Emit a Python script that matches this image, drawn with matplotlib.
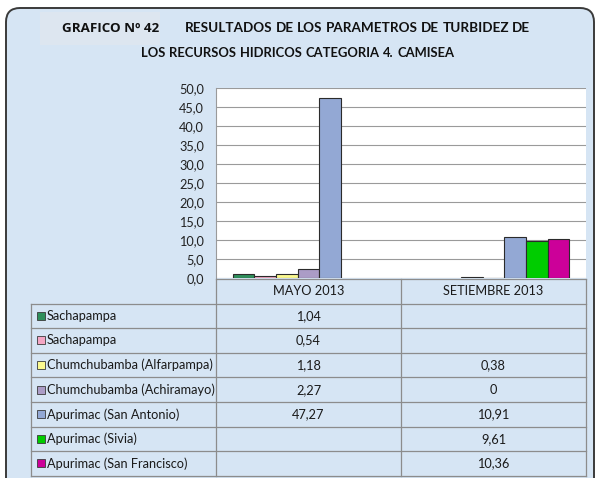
import numpy as np
import matplotlib
matplotlib.use("Agg")
import matplotlib.pyplot as plt
from matplotlib.patches import FancyBboxPatch, Rectangle
from matplotlib.lines import Line2D
from matplotlib.transforms import Affine2D

# turbidity results per sampling point (NTU), None = not sampled
months = ["MAYO 2013", "SETIEMBRE 2013"]
stations = [
    "Sachapampa",
    "Sachapampa",
    "Chumchubamba (Alfarpampa)",
    "Chumchubamba (Achiramayo)",
    "Apurimac (San Antonio)",
    "Apurimac (Sivia)",
    "Apurimac (San Francisco)",
]
mayo = [1.04, 0.54, 1.18, 2.27, 47.27, None, None]
setiembre = [None, None, 0.38, 0, 10.91, 9.61, 10.36]
colors = ["#2f8f5b", "#f4a6c4", "#fbf98f", "#ab9cc6", "#93a8d4", "#00cc00", "#cc0099"]
yticks = np.arange(0, 55, 5)

W, H = 595, 478
fig = plt.figure(figsize=(W / 100, H / 100), dpi=100)
fig.patch.set_facecolor("white")
renderer = fig.canvas.get_renderer()

# pixel coordinates, origin top-left
px = Affine2D().scale(1 / W, -1 / H).translate(0, 1) + fig.transFigure

body_font = ["Lato", "DejaVu Sans"]
title_font = ["Lato", "DejaVu Sans"]

# background panel
frame = FancyBboxPatch((6, 8), 588, 500, boxstyle="round,pad=0,rounding_size=14",
                       transform=px, facecolor="#d6e5f4", edgecolor="#3a3a3a",
                       linewidth=1.4, zorder=-2)
fig.patches.append(frame)
fig.patches.append(Rectangle((40, 12), 120, 33, transform=px, facecolor="#dde6f0",
                             edgecolor="none", zorder=-1))


def title_line(x0, x1, y, s, gap=3.5):
    # lay the words out one by one with tight spacing, sized to span x0..x1
    words = s.split()
    texts = [fig.text(0, y, w, transform=px, ha="left", va="center", fontsize=10,
                      fontweight="bold", family=title_font, color="#111111")
             for w in words]
    widths = [t.get_window_extent(renderer=renderer).width for t in texts]
    k = (x1 - x0 - gap * (len(words) - 1)) / sum(widths)
    xc = x0
    for t, w in zip(texts, widths):
        t.set_fontsize(10 * k)
        t.set_x(xc)
        xc += w * k + gap


fig.text(62, 29, "GRAFICO Nº 42", transform=px, fontsize=9.6, fontweight="bold",
         family=["Open Sans", "DejaVu Sans"], va="center", ha="left", color="#111111")
title_line(185, 530, 28, "RESULTADOS DE LOS PARAMETROS DE TURBIDEZ DE")
title_line(141, 455, 53, "LOS RECURSOS HIDRICOS CATEGORIA 4. CAMISEA")

# bar chart
left, right, top, bottom = 216, 586, 88, 278
ax = fig.add_axes([left / W, 1 - bottom / H, (right - left) / W, (bottom - top) / H])
ax.set_facecolor("white")
n = len(stations)
bw = 0.117
x = np.arange(len(months))
for i in range(n):
    vals = [mayo[i], setiembre[i]]
    heights = [np.nan if v is None else v for v in vals]
    ax.bar(x + (i - (n - 1) / 2) * bw, heights, width=bw, color=colors[i],
           edgecolor="#2b2b2b", linewidth=0.8, zorder=3)
ax.set_xlim(-0.5, 1.5)
ax.set_ylim(0, 50)
ax.set_yticks(yticks)
ax.set_yticklabels([f"{t:.1f}".replace(".", ",") for t in yticks],
                   family=body_font, fontsize=9.2, color="#222222")
ax.tick_params(axis="y", length=0, pad=8.5)
ax.set_xticks([])
ax.grid(axis="y", color="#9a9a9a", linewidth=0.8, zorder=0)
for s in ["top", "right", "bottom"]:
    ax.spines[s].set_visible(False)
ax.spines["left"].set_color("#9a9a9a")
ax.spines["left"].set_linewidth(0.8)

# data table under the chart
tab_left, col1, col2, tab_right = 31, 216, 401, 586
tab_top, row_h = 279, 24.6
n_rows = n + 1
line_kw = dict(transform=px, color="#8c8c8c", linewidth=0.9)
for r in range(n_rows + 1):
    y = tab_top + r * row_h
    x0 = col1 if r == 0 else tab_left
    fig.lines.append(Line2D([x0, tab_right], [y, y], **line_kw))
tab_bottom = tab_top + n_rows * row_h
fig.lines.append(Line2D([tab_left, tab_left], [tab_top + row_h, tab_bottom], **line_kw))
for xc in (col1, col2, tab_right):
    fig.lines.append(Line2D([xc, xc], [tab_top, tab_bottom], **line_kw))

txt_kw = dict(transform=px, fontsize=9.2, family=body_font, color="#1a1a1a", va="center")
for j, m in enumerate(months):
    cx = (col1 + col2) / 2 if j == 0 else (col2 + tab_right) / 2
    fig.text(cx, tab_top + row_h / 2, m, ha="center", **txt_kw)


def fmt(v):
    return ("%g" % v).replace(".", ",")


for i, name in enumerate(stations):
    yc = tab_top + (i + 1.5) * row_h
    fig.patches.append(Rectangle((36.5, yc - 4), 8, 8, transform=px, facecolor=colors[i],
                                 edgecolor="#3a3a3a", linewidth=0.6))
    fig.text(47, yc, name, ha="left", **txt_kw)
    for j, vals in enumerate([mayo, setiembre]):
        if vals[i] is None:
            continue
        cx = (col1 + col2) / 2 if j == 0 else (col2 + tab_right) / 2
        fig.text(cx, yc, fmt(vals[i]), ha="center", **txt_kw)

fig.savefig("out.png", dpi=100)
